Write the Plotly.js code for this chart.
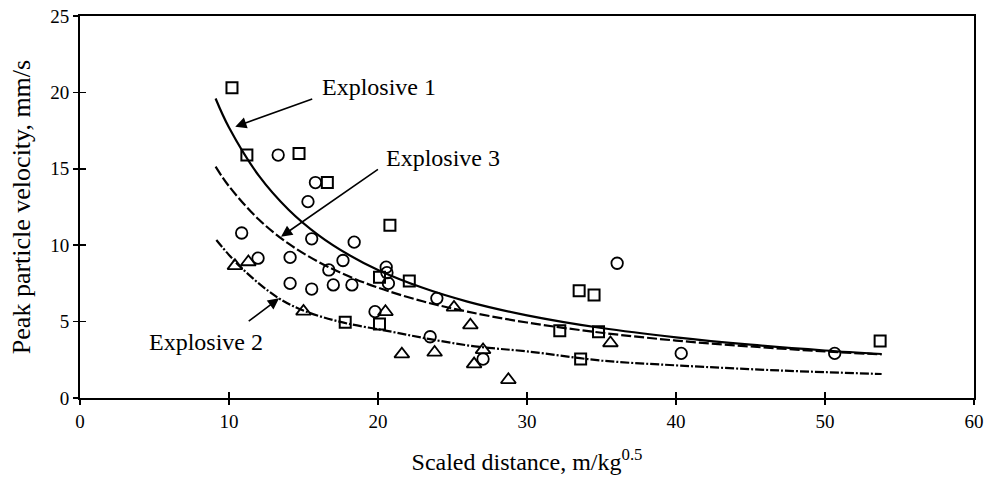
<!DOCTYPE html>
<html>
<head>
<meta charset="utf-8">
<script src="https://cdn.plot.ly/plotly-3.0.1.min.js"></script>
<style>html,body{margin:0;padding:0;background:#fff;}#chart{width:987px;height:484px;}</style>
</head>
<body>
<div id="chart"></div>
<script>
// Scatter data
const squareX = [10.2, 11.2, 14.7, 16.6, 20.8, 20.1, 22.1, 17.8, 20.1, 33.5, 34.5, 32.2, 34.8, 33.6, 53.7];
const squareY = [20.3, 15.9, 16.0, 14.1, 11.3, 7.9, 7.66, 4.95, 4.84, 7.02, 6.74, 4.4, 4.34, 2.55, 3.73];

const circleX = [13.3, 15.8, 15.3, 10.85, 11.95, 14.1, 15.55, 18.4, 17.65, 16.7, 14.1, 15.55, 17.0, 18.25, 19.8, 20.55, 20.6, 20.7, 23.95, 23.5, 27.05, 36.05, 40.35, 50.65];
const circleY = [15.9, 14.1, 12.85, 10.8, 9.15, 9.2, 10.42, 10.2, 9.0, 8.38, 7.5, 7.13, 7.4, 7.4, 5.65, 8.56, 8.2, 7.5, 6.52, 4.01, 2.55, 8.82, 2.92, 2.92];

const triX = [10.4, 11.3, 15.0, 20.5, 25.1, 26.2, 21.6, 23.8, 27.05, 26.45, 28.75, 35.6];
const triY = [8.65, 8.9, 5.67, 5.64, 5.93, 4.77, 2.87, 2.98, 3.15, 2.22, 1.19, 3.6];

// Fitted curves
const exp1X = [9.1, 10, 12, 14, 16, 18, 20, 23, 26, 30, 35, 40, 45, 50, 53.8];
const exp1Y = [19.6, 17.7, 14.55, 12.32, 10.66, 9.39, 8.38, 7.21, 6.31, 5.41, 4.58, 3.97, 3.49, 3.11, 2.88];
const exp3X = [9.1, 10, 12, 14, 16, 18, 20, 23, 26, 30, 35, 40, 45, 50, 53.8];
const exp3Y = [15.14, 13.86, 11.68, 10.10, 8.91, 7.98, 7.22, 6.33, 5.65, 4.94, 4.27, 3.76, 3.37, 3.05, 2.85];
const exp2X = [9.15, 10.75, 13.3, 15.2, 17.7, 20.8, 23.5, 26.5, 30, 35, 40.3, 47, 53.8];
const exp2Y = [10.34, 8.59, 6.55, 5.65, 4.93, 4.36, 3.85, 3.38, 3.05, 2.45, 2.12, 1.8, 1.57];

// Labels
const curveLabels = ['Explosive 1', 'Explosive 3', 'Explosive 2'];
const labelX = [20.05, 24.33, 8.46];
const labelY = [20.37, 15.7, 3.68];
const arrowTipX = [10.42, 13.49, 13.36];
const arrowTipY = [17.76, 10.56, 6.52];
const arrowTailX = [15.72, 20.13, 11.19];
const arrowTailY = [19.61, 15.05, 4.93];

const xTitle = 'Scaled distance, m/kg<sup>0.5</sup>';
const yTitle = 'Peak particle velocity, mm/s';

const FONT = 'Liberation Serif, Times New Roman, serif';

const traces = [
  {x: exp1X, y: exp1Y, mode: 'lines', line: {color: 'black', width: 2.2, shape: 'spline', dash: 'solid'}, name: 'Explosive 1 fit', hoverinfo: 'skip'},
  {x: exp3X, y: exp3Y, mode: 'lines', line: {color: 'black', width: 2.2, shape: 'spline', dash: '10px,3px'}, name: 'Explosive 3 fit', hoverinfo: 'skip'},
  {x: exp2X, y: exp2Y, mode: 'lines', line: {color: 'black', width: 2.2, shape: 'spline', dash: '9px,2px,2px,2px'}, name: 'Explosive 2 fit', hoverinfo: 'skip'},
  {x: squareX, y: squareY, mode: 'markers', name: 'Explosive 1', marker: {symbol: 'square-open', size: 11, color: 'black', line: {width: 2, color: 'black'}}},
  {x: circleX, y: circleY, mode: 'markers', name: 'Explosive 3', marker: {symbol: 'circle-open', size: 11.5, color: 'black', line: {width: 1.8, color: 'black'}}},
  {x: triX, y: triY, mode: 'markers', name: 'Explosive 2', marker: {symbol: 'triangle-up-open', size: 13, color: 'black', line: {width: 1.8, color: 'black'}}},
  {x: [], y: [], xaxis: 'x2', yaxis: 'y2', mode: 'markers', showlegend: false, hoverinfo: 'skip'}
];

const annotations = [];
for (let i = 0; i < curveLabels.length; i++) {
  annotations.push({
    x: labelX[i], y: labelY[i], xref: 'x', yref: 'y', text: curveLabels[i],
    showarrow: false, xanchor: 'center', yanchor: 'middle',
    font: {family: FONT, size: 24, color: 'black'}
  });
  annotations.push({
    x: arrowTipX[i], y: arrowTipY[i], xref: 'x', yref: 'y',
    ax: arrowTailX[i], ay: arrowTailY[i], axref: 'x', ayref: 'y',
    text: ' ', font: {size: 2}, showarrow: true, arrowhead: 2, arrowsize: 1.4,
    arrowwidth: 1.6, arrowcolor: 'black', standoff: 0, startstandoff: 0
  });
}

const axisCommon = {
  showgrid: false, zeroline: false, showline: true, linecolor: 'black', linewidth: 2,
  ticks: 'outside', ticklen: 5, tickwidth: 1.6, tickcolor: 'black',
  tickfont: {family: FONT, size: 19, color: 'black'}
};

const layout = {
  width: 987, height: 484,
  margin: {l: 80, r: 13, t: 16, b: 86},
  paper_bgcolor: 'white', plot_bgcolor: 'white',
  showlegend: false,
  font: {family: FONT, color: 'black'},
  xaxis: Object.assign({}, axisCommon, {
    range: [0, 60], tick0: 0, dtick: 10, mirror: true,
    title: {text: xTitle, font: {family: FONT, size: 24, color: 'black'}, standoff: 22}
  }),
  yaxis: Object.assign({}, axisCommon, {
    range: [0, 25], tick0: 0, dtick: 5, mirror: true,
    title: {text: yTitle, font: {family: FONT, size: 26, color: 'black'}, standoff: 12}
  }),
  xaxis2: {overlaying: 'x', anchor: 'y2', side: 'bottom', range: [0, 60], tick0: 0, dtick: 10,
    ticks: 'inside', ticklen: 6, tickwidth: 1.6, tickcolor: 'black', showticklabels: false,
    showgrid: false, zeroline: false, showline: false},
  yaxis2: {overlaying: 'y', anchor: 'x2', side: 'left', range: [0, 25], tick0: 0, dtick: 5,
    ticks: 'inside', ticklen: 6, tickwidth: 1.6, tickcolor: 'black', showticklabels: false,
    showgrid: false, zeroline: false, showline: false},
  annotations: annotations
};

Plotly.newPlot('chart', traces, layout, {displayModeBar: false, staticPlot: true});
</script>
</body>
</html>
